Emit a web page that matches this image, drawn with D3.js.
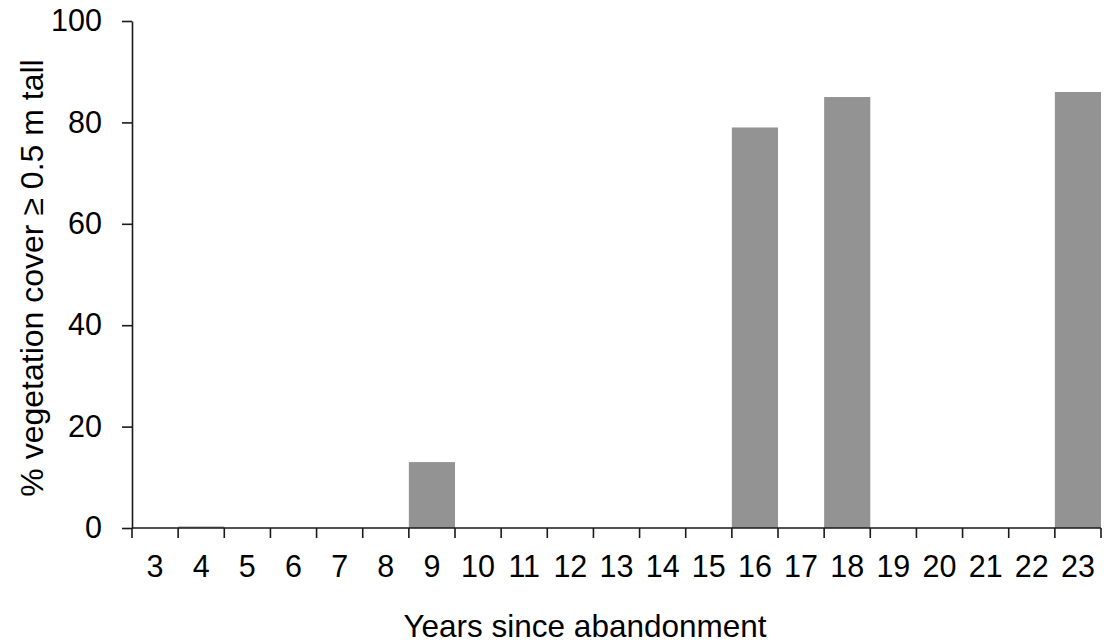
<!DOCTYPE html>
<html>
<head>
<meta charset="utf-8">
<script src="https://cdn.jsdelivr.net/npm/d3@7"></script>
<style>
  html, body { margin: 0; padding: 0; background: #fff; }
  svg { display: block; font-family: "Liberation Sans", Arial, sans-serif; }
</style>
</head>
<body>
<svg id="chart" width="1111" height="644"></svg>
<script>
const years = ["3","4","5","6","7","8","9","10","11","12","13","14","15","16","17","18","19","20","21","22","23"];
const cover = [0, 0.3, 0, 0, 0, 0, 13, 0, 0, 0, 0, 0, 0, 79, 0, 85, 0, 0, 0, 0, 86];
const yTicks = [0, 20, 40, 60, 80, 100];
const xTitle = "Years since abandonment";
const yTitle = "% vegetation cover \u2265 0.5 m tall";

(function () {
const svg = d3.select("#chart");
const mLeft = 132, mRight = 1101, mTop = 21, mBottom = 528;

const x = d3.scaleBand().domain(years).range([mLeft, mRight]).padding(0);
const y = d3.scaleLinear().domain([0, 100]).range([mBottom, mTop]);

// bars
svg.append("g").selectAll("rect")
  .data(years.map((d, i) => ({ year: d, v: cover[i] })))
  .join("rect")
  .attr("x", d => x(d.year))
  .attr("width", x.bandwidth())
  .attr("y", d => y(d.v))
  .attr("height", d => y(0) - y(d.v))
  .attr("fill", "#939393");

const axisColor = "#1a1a1a";

// y axis
const yAxis = svg.append("g")
  .attr("transform", `translate(${mLeft},0)`)
  .call(d3.axisLeft(y).tickValues(yTicks).tickSize(10).tickPadding(20).tickSizeOuter(0));
yAxis.select(".domain").attr("stroke", axisColor).attr("stroke-width", 1.6);
yAxis.selectAll(".tick line").attr("stroke", axisColor).attr("stroke-width", 1.6);
yAxis.selectAll(".tick text")
  .attr("font-size", 30.5).attr("fill", "#000")
  .attr("font-family", "'Liberation Sans', Arial, sans-serif");

// x axis: ticks at band boundaries
const xAxisG = svg.append("g").attr("transform", `translate(0,${mBottom})`);
xAxisG.append("line")
  .attr("x1", mLeft).attr("x2", mRight)
  .attr("stroke", axisColor).attr("stroke-width", 1.6);
const boundaries = years.map(d => x(d)).concat([x(years[years.length - 1]) + x.bandwidth()]);
xAxisG.selectAll("line.tk").data(boundaries).join("line")
  .attr("class", "tk")
  .attr("x1", d => d).attr("x2", d => d)
  .attr("y1", 0).attr("y2", 10)
  .attr("stroke", axisColor).attr("stroke-width", 1.6);
xAxisG.selectAll("text").data(years).join("text")
  .attr("x", d => x(d) + x.bandwidth() / 2)
  .attr("y", 49)
  .attr("text-anchor", "middle")
  .attr("font-size", 30.5)
  .attr("fill", "#000")
  .text(d => d);

// axis titles
svg.append("text")
  .attr("x", 585)
  .attr("y", 637)
  .attr("text-anchor", "middle")
  .attr("font-size", 31.5)
  .attr("fill", "#000")
  .text(xTitle);

svg.append("text")
  .attr("transform", `translate(43,278) rotate(-90)`)
  .attr("text-anchor", "middle")
  .attr("font-size", 32)
  .attr("fill", "#000")
  .text(yTitle);
})();
</script>
</body>
</html>
